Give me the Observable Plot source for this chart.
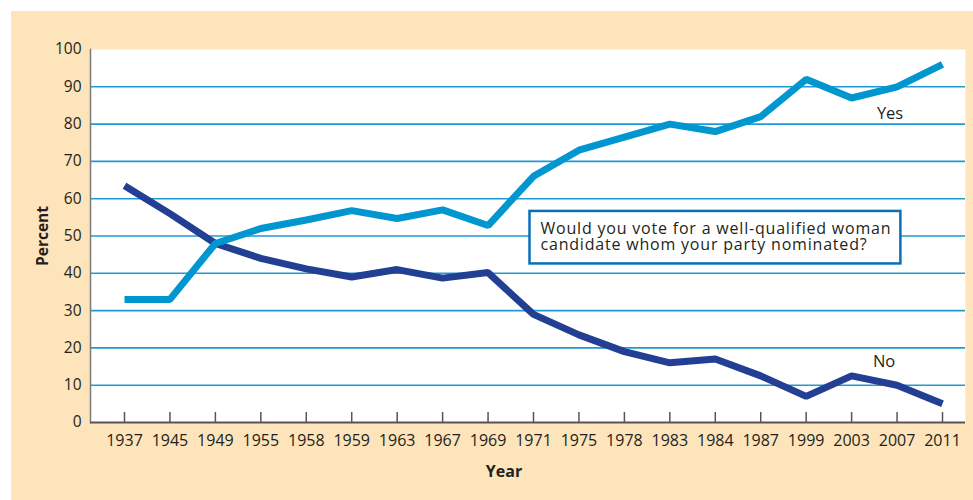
<!DOCTYPE html>
<html>
<head>
<meta charset="utf-8">
<script src="https://cdn.jsdelivr.net/npm/d3@7"></script>
<script src="https://cdn.jsdelivr.net/npm/@observablehq/plot@0.6"></script>
<style>
  html, body { margin: 0; padding: 0; background: #ffffff; }
  #panel { position: absolute; left: 11px; top: 11px; width: 962px; height: 489px; background: #fde4bb; }
  svg { display: block; }
  g.qbox text { letter-spacing: 0.8px; }
</style>
</head>
<body>
<div id="panel"></div>
<script>
const years = ["1937","1945","1949","1955","1958","1959","1963","1967","1969","1971","1975","1978","1983","1984","1987","1999","2003","2007","2011"];
const yesPct = [33, 33, 48, 52, 54.3, 56.8, 54.7, 57, 52.8, 66, 73, 76.5, 80, 78, 82, 92, 87, 90, 96];
const noPct  = [63.5, 56, 48, 44, 41.2, 39, 41, 38.7, 40.2, 29, 23.5, 19, 16, 17, 12.5, 7, 12.5, 10, 5];
const yTicks = [0, 10, 20, 30, 40, 50, 60, 70, 80, 90, 100];
const gridTicks = [10, 20, 30, 40, 50, 60, 70, 80, 90];
const seriesLabels = [{text: "Yes", year: "2007", value: 82.8}, {text: "No", year: "2007", value: 16.4}];
const questionLines = ["Would you vote for a well-qualified woman", "candidate whom your party nominated?"];

const yesRows = years.map((y, i) => ({year: y, value: yesPct[i]}));
const noRows = years.map((y, i) => ({year: y, value: noPct[i]}));

const font = "'Open Sans', 'Noto Sans', sans-serif";
const ink = "#231f20";

const chart = Plot.plot({
  width: 962,
  height: 489,
  marginLeft: 79,
  marginRight: 8,
  marginTop: 38,
  marginBottom: 78,
  style: {background: "transparent", fontFamily: font, color: ink, overflow: "visible"},
  x: {type: "point", domain: years, range: [113, 931], padding: 0, round: false, label: null},
  y: {domain: [0, 100], label: null},
  marks: [
    Plot.frame({fill: "white", stroke: null}),
    Plot.gridY(gridTicks, {stroke: "#1e9ad6", strokeOpacity: 1, strokeWidth: 1.6}),
    Plot.frame({anchor: "left", stroke: "#7a7a7a", strokeWidth: 1.5}),
    Plot.ruleY([0], {stroke: "#5b5353", strokeWidth: 2.2}),
    Plot.ruleX(years, {x: d => d, y1: 0, y2: 0, insetTop: -10, stroke: "#5b5353", strokeWidth: 1.5}),
    Plot.axisY(yTicks, {tickSize: 0, tickPadding: 9, fontSize: 15.5, fill: ink, label: null}),
    Plot.axisX({tickSize: 0, tickPadding: 12, fontSize: 16, fill: ink, label: null}),
    Plot.line(noRows, {x: "year", y: "value", stroke: "#233f94", strokeWidth: 7, strokeLinejoin: "miter", strokeLinecap: "butt"}),
    Plot.line(yesRows, {x: "year", y: "value", stroke: "#0096cf", strokeWidth: 7, strokeLinejoin: "miter", strokeLinecap: "butt"}),
    Plot.text(seriesLabels.slice(0, 1), {x: "year", y: "value", text: "text", dx: -7, fontSize: 16.5, fill: ink}),
    Plot.text(seriesLabels.slice(1), {x: "year", y: "value", text: "text", dx: -13, fontSize: 16.5, fill: ink}),
    Plot.text(questionLines.slice(0, 1), {x: () => "1971", y: () => 53.6, text: d => d, dx: 7, textAnchor: "start", lineAnchor: "top", fontSize: 16, fill: ink, className: "qbox"}),
    Plot.text(questionLines.slice(1), {x: () => "1971", y: () => 53.6, text: d => d, dx: 7, dy: 16.5, textAnchor: "start", lineAnchor: "top", fontSize: 16, fill: ink, className: "qbox"}),
    Plot.text(["Year"], {frameAnchor: "bottom", dx: -24, dy: 54, fontSize: 16, fontWeight: "bold", fill: ink}),
    Plot.text(["Percent"], {frameAnchor: "left", textAnchor: "middle", rotate: -90, dx: -47, fontSize: 15.5, fontWeight: "bold", fill: ink})
  ]
});

document.getElementById("panel").appendChild(chart);

// draw the question box around its text (screen-space bounds, relative to the svg)
const qGroups = Array.from(chart.querySelectorAll("g.qbox"));
if (qGroups.length) {
  const s = chart.getBoundingClientRect();
  let x0 = Infinity, y0 = Infinity, x1 = -Infinity, y1 = -Infinity;
  for (const g of qGroups) {
    const b = g.getBoundingClientRect();
    x0 = Math.min(x0, b.left - s.left); y0 = Math.min(y0, b.top - s.top);
    x1 = Math.max(x1, b.right - s.left); y1 = Math.max(y1, b.bottom - s.top);
  }
  const r = document.createElementNS("http://www.w3.org/2000/svg", "rect");
  r.setAttribute("x", x0 - 11);
  r.setAttribute("y", y0 - 6);
  r.setAttribute("width", x1 - x0 + 20);
  r.setAttribute("height", y1 - y0 + 14);
  r.setAttribute("fill", "white");
  r.setAttribute("stroke", "#0a6fb8");
  r.setAttribute("stroke-width", 2.5);
  qGroups[0].parentNode.insertBefore(r, qGroups[0]);
}
</script>
</body>
</html>
